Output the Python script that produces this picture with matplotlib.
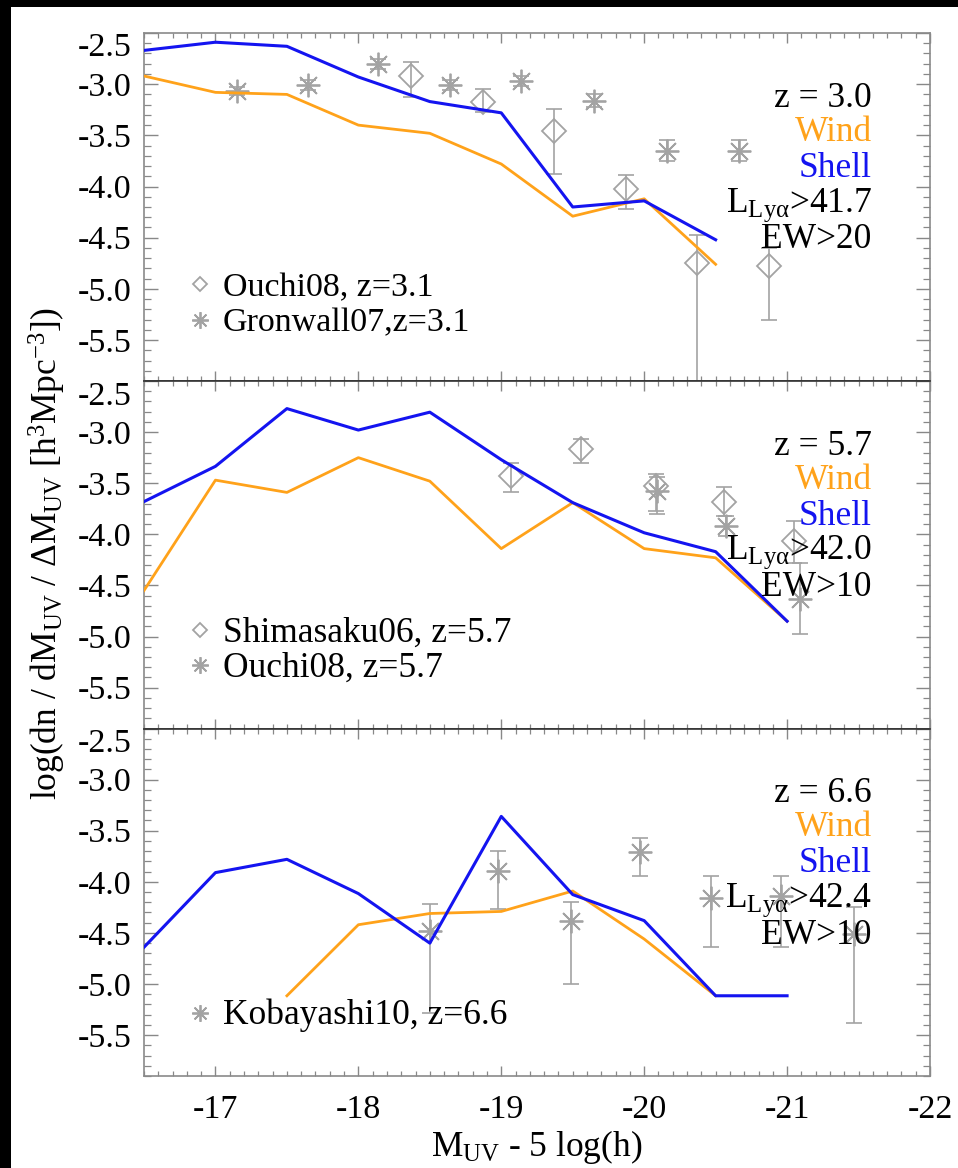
import numpy as np
import matplotlib
matplotlib.use('Agg')
import matplotlib.pyplot as plt
from matplotlib.patches import Rectangle
from matplotlib.ticker import MultipleLocator

plt.rcParams['font.family'] = ['Liberation Serif', 'DejaVu Serif']
plt.rcParams['mathtext.fontset'] = 'custom'
plt.rcParams['mathtext.rm'] = 'Liberation Serif'
plt.rcParams['mathtext.it'] = 'Liberation Serif:italic'
plt.rcParams['axes.unicode_minus'] = False

# model magnitude bins
mag = [-16.5, -17.0, -17.5, -18.0, -18.5, -19.0, -19.5, -20.0, -20.5, -21.0]

# z = 3.0 models
shell_30 = [-2.67, -2.59, -2.63, -2.93, -3.17, -3.28, -4.20, -4.14, -4.52]
wind_30 = [-2.92, -3.08, -3.10, -3.40, -3.48, -3.78, -4.29, -4.12, -4.76]
# z = 5.7 models
shell_57 = [-3.68, -3.335, -2.77, -2.98, -2.805, -3.27, -3.69, -3.985, -4.17, -4.85]
wind_57 = [-4.55, -3.47, -3.59, -3.25, -3.48, -4.14, -3.69, -4.14, -4.23, -4.85]
# z = 6.6 models (wind starts at -17.5)
shell_66 = [-4.64, -3.91, -3.78, -4.115, -4.60, -3.36, -4.125, -4.38, -5.115, -5.115]
wind_66 = [-5.115, -4.42, -4.31, -4.29, -4.09, -4.56, -5.115]

# observations: x, y, upper end, lower end of error bar
ouchi08_z31_x = [-18.37, -18.87, -19.37, -19.87, -20.37, -20.87]
ouchi08_z31_y = [-2.92, -3.17, -3.455, -4.02, -4.75, -4.78]
ouchi08_z31_hi = [-2.78, -3.05, -3.24, -3.89, -4.47, -4.60]
ouchi08_z31_lo = [-3.13, -3.27, -3.88, -4.22, -6.5, -5.30]

gronwall07_x = [-17.15, -17.65, -18.14, -18.64, -19.14, -19.65, -20.16, -20.66]
gronwall07_y = [-3.07, -3.01, -2.80, -3.01, -2.97, -3.16, -3.65, -3.65]
gronwall07_err = [0.04, 0.05, 0.05, 0.05, 0.05, 0.06, 0.10, 0.10]

shimasaku06_x = [-19.07, -19.56, -20.08, -20.56, -21.05]
shimasaku06_y = [-3.43, -3.17, -3.53, -3.68, -4.07]
shimasaku06_hi = [-3.30, -3.07, -3.41, -3.54, -3.87]
shimasaku06_lo = [-3.585, -3.30, -3.77, -3.82, -4.28]

ouchi08_z57_x = [-20.09, -20.57, -21.09]
ouchi08_z57_y = [-3.58, -3.92, -4.63]
ouchi08_z57_hi = [-3.44, -3.82, -4.28]
ouchi08_z57_lo = [-3.80, -4.02, -4.98]

kobayashi10_x = [-18.50, -18.98, -19.485, -19.97, -20.47, -20.96, -21.47]
kobayashi10_y = [-4.48, -3.89, -4.385, -3.71, -4.16, -4.14, -4.51]
kobayashi10_hi = [-4.215, -3.70, -4.20, -3.57, -3.94, -3.94, -4.25]
kobayashi10_lo = [-5.28, -4.265, -5.00, -3.94, -4.64, -4.64, -5.38]

yticks = [-2.5, -3.0, -3.5, -4.0, -4.5, -5.0, -5.5]
xticks = [-17, -18, -19, -20, -21, -22]

cut_labels = [
    ['z = 3.0', r'L$_{\mathrm{Ly\alpha}}$>41.7', 'EW>20'],
    ['z = 5.7', r'L$_{\mathrm{Ly\alpha}}$>42.0', 'EW>10'],
    ['z = 6.6', r'L$_{\mathrm{Ly\alpha}}$>42.4', 'EW>10'],
]

GREY = '#a3a3a3'
ORANGE = '#ffa21a'
BLUE = '#1414f0'
FS = 25.5

W, H = 958, 1168
fig = plt.figure(figsize=(W / 100, H / 100), dpi=100)
fig.patch.set_facecolor('black')
fig.add_artist(Rectangle((11 / W, 0), 1 - 11 / W, 1 - 7 / H, transform=fig.transFigure,
                         facecolor='white', edgecolor='none', zorder=-10))

left, right = 144 / W, 930 / W
edges = [33, 381, 728.5, 1076]
axes = []
for i in range(3):
    ax = fig.add_axes([left, 1 - edges[i + 1] / H, right - left, (edges[i + 1] - edges[i]) / H])
    axes.append(ax)


def errs(y, hi, lo):
    y = np.array(y)
    return [y - np.array(lo), np.array(hi) - y]


def obs(ax, x, y, yerr, marker, ms):
    ax.errorbar(x, y, yerr=yerr, fmt='none', ecolor=GREY, elinewidth=1.2,
                capsize=6, capthick=1.2, zorder=2)
    ax.plot(x, y, linestyle='none', marker=marker, ms=ms, mfc='none', mec=GREY,
            mew=1.3, zorder=2)


DIAMOND = 'D'
STAR = (8, 2, 0)

ax = axes[0]
obs(ax, ouchi08_z31_x, ouchi08_z31_y, errs(ouchi08_z31_y, ouchi08_z31_hi, ouchi08_z31_lo), DIAMOND, 12.5)
obs(ax, gronwall07_x, gronwall07_y, gronwall07_err, STAR, 17)
ax.plot(mag[:9], wind_30, color=ORANGE, lw=2.0, zorder=3)
ax.plot(mag[:9], shell_30, color=BLUE, lw=2.2, zorder=3)

ax = axes[1]
obs(ax, shimasaku06_x, shimasaku06_y, errs(shimasaku06_y, shimasaku06_hi, shimasaku06_lo), DIAMOND, 12.5)
obs(ax, ouchi08_z57_x, ouchi08_z57_y, errs(ouchi08_z57_y, ouchi08_z57_hi, ouchi08_z57_lo), STAR, 17)
ax.plot(mag, wind_57, color=ORANGE, lw=2.0, zorder=3)
ax.plot(mag, shell_57, color=BLUE, lw=2.2, zorder=3)

ax = axes[2]
obs(ax, kobayashi10_x, kobayashi10_y, errs(kobayashi10_y, kobayashi10_hi, kobayashi10_lo), STAR, 17)
ax.plot(mag[2:9], wind_66, color=ORANGE, lw=2.0, zorder=3)
ax.plot(mag, shell_66, color=BLUE, lw=2.2, zorder=3)

# legends drawn by hand, lower left of each panel: marker, size, marker y, text y, label, font size
legends = [
    [(DIAMOND, 7.5, 0.279, 0.244, 'Ouchi08, z=3.1', 24.5), (STAR, 12, 0.176, 0.142, 'Gronwall07,z=3.1', 24.5)],
    [(DIAMOND, 7.5, 0.283, 0.250, 'Shimasaku06, z=5.7', FS), (STAR, 12, 0.183, 0.150, 'Ouchi08, z=5.7', FS)],
    [(STAR, 12, 0.181, 0.150, 'Kobayashi10, z=6.6', FS)],
]

for i, ax in enumerate(axes):
    ax.set_xlim(-16.5, -22)
    ax.set_ylim(-5.9, -2.5)
    ax.set_yticks(yticks)
    ax.set_yticklabels(['%.1f' % v for v in yticks])
    ax.yaxis.set_minor_locator(MultipleLocator(0.1))
    ax.set_xticks(xticks)
    ax.set_xticklabels(['%d' % v for v in xticks])
    ax.xaxis.set_minor_locator(MultipleLocator(0.1))
    ax.tick_params(axis='both', which='both', direction='in', top=True, right=True,
                   colors='#888888', labelcolor='black', labelsize=FS - 1)
    ax.tick_params(axis='y', which='major', length=10, width=1.0, pad=9)
    ax.tick_params(axis='y', which='minor', length=5, width=0.9)
    ax.tick_params(axis='x', which='major', length=7, width=1.0, pad=13)
    ax.tick_params(axis='x', which='minor', length=3.5, width=0.9)
    if i < 2:
        ax.tick_params(axis='x', labelbottom=False)
    for lab in ax.get_yticklabels():
        if lab.get_text() == '-2.5':
            lab.set_verticalalignment('top')
    for s in ax.spines.values():
        s.set_color('#8a8a8a')
        s.set_linewidth(1.2)
    if i > 0:
        ax.spines['top'].set_color('#333333')
    if i < 2:
        ax.spines['bottom'].set_color('#333333')

    # redshift / model / cut labels
    z_txt, l_txt, ew_txt = cut_labels[i]
    tx = 0.926
    ax.text(tx, 0.788, z_txt, transform=ax.transAxes, ha='right', va='baseline', fontsize=FS, color='black', zorder=5)
    ax.text(tx, 0.690, 'Wind', transform=ax.transAxes, ha='right', va='baseline', fontsize=FS, color=ORANGE, zorder=5)
    ax.text(tx, 0.587, 'Shell', transform=ax.transAxes, ha='right', va='baseline', fontsize=FS, color=BLUE, zorder=5)
    ax.text(tx, 0.487, l_txt, transform=ax.transAxes, ha='right', va='baseline', fontsize=FS, color='black', zorder=5)
    ax.text(tx, 0.381, ew_txt, transform=ax.transAxes, ha='right', va='baseline', fontsize=FS, color='black', zorder=5)

    for marker, ms, ysym, ytxt, label, fs in legends[i]:
        ax.plot([0.0712], [ysym], transform=ax.transAxes, marker=marker, ms=ms, mfc='none',
                mec=GREY, mew=1.3, linestyle='none', clip_on=False)
        ax.text(0.1005, ytxt, label, transform=ax.transAxes, ha='left', va='baseline',
                fontsize=fs, color='black', zorder=5)

fig.text(47 / W, 1 - 554 / H,
         r'log(dn / dM$_{\mathrm{UV}}$ / $\Delta$M$_{\mathrm{UV}}$ [h$^{3}$Mpc$^{-3}$])',
         rotation=90, ha='center', va='center', fontsize=FS)
fig.text(537 / W, 1 - 1147 / H, r'M$_{\mathrm{UV}}$ - 5 log(h)',
         ha='center', va='center', fontsize=FS)

fig.savefig('out.png', dpi=100, facecolor=fig.get_facecolor())
